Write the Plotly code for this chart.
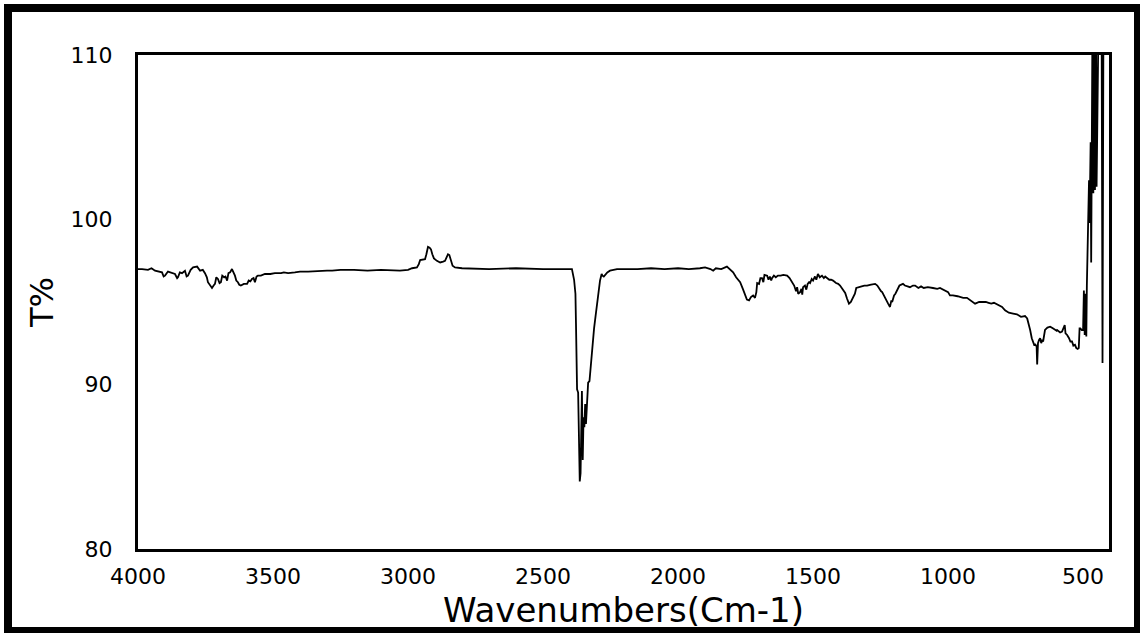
import plotly.graph_objects as go

# ---- data ----
wavenumbers = [
    4000, 3985, 3963, 3950, 3937, 3925, 3911, 3905, 3900, 3889, 3875, 3863, 3855, 3852, 3845, 3837,
    3826, 3820, 3815, 3805, 3796, 3781, 3770, 3760, 3752, 3745, 3741, 3733, 3726, 3720, 3715, 3710,
    3704, 3698, 3693, 3688, 3681, 3676, 3670, 3665, 3659, 3652, 3647, 3641, 3636, 3630, 3625, 3619,
    3608, 3596, 3590, 3584, 3578, 3572, 3567, 3561, 3556, 3545, 3530, 3510, 3493, 3470, 3460, 3444,
    3419, 3400, 3370, 3333, 3300, 3281, 3250, 3200, 3150, 3100, 3060, 3030, 3000, 2985, 2967, 2960,
    2955, 2945, 2937, 2932, 2926, 2920, 2915, 2910, 2904, 2893, 2881, 2870, 2863, 2856, 2852, 2847,
    2841, 2835, 2826, 2800, 2700, 2600, 2500, 2400, 2393, 2385, 2380, 2378, 2374, 2370, 2367, 2364,
    2361, 2358, 2356, 2353, 2350, 2347, 2344, 2341, 2337, 2333, 2328, 2322, 2318, 2311, 2305, 2300,
    2294, 2289, 2283, 2280, 2275, 2270, 2262, 2252, 2240, 2226, 2200, 2150, 2100, 2050, 2000, 1960,
    1919, 1900, 1880, 1870, 1860, 1840, 1819, 1810, 1796, 1785, 1770, 1760, 1752, 1745, 1737, 1730,
    1722, 1715, 1710, 1707, 1700, 1695, 1689, 1684, 1680, 1675, 1670, 1665, 1660, 1655, 1652, 1645,
    1638, 1630, 1620, 1610, 1596, 1587, 1578, 1570, 1563, 1559, 1555, 1548, 1543, 1540, 1537, 1530,
    1525, 1520, 1515, 1511, 1505, 1500, 1493, 1488, 1482, 1475, 1467, 1460, 1455, 1448, 1440, 1433,
    1426, 1415, 1407, 1400, 1390, 1381, 1374, 1367, 1360, 1352, 1345, 1340, 1333, 1320, 1310, 1300,
    1285, 1270, 1262, 1255, 1248, 1244, 1235, 1228, 1222, 1215, 1210, 1207, 1200, 1195, 1189, 1180,
    1167, 1160, 1150, 1141, 1130, 1122, 1110, 1100, 1090, 1075, 1056, 1040, 1030, 1015, 1000, 993,
    982, 965, 944, 930, 915, 900, 893, 885, 874, 860, 850, 840, 830, 815, 800, 789,
    775, 759, 745, 730, 715, 707, 700, 696, 690, 685, 680, 678, 672, 670, 668, 667,
    663, 659, 655, 651, 648, 644, 641, 632, 622, 612, 605, 598, 596, 590, 585, 578,
    572, 568, 565, 559, 552, 547, 541, 536, 530, 525, 520, 516, 513, 510, 505, 500,
    497, 494, 491, 488, 486, 484, 482, 480, 478, 476, 474, 472, 470, 468, 466, 464,
    462, 459, 456, 453, 450, 446, 440, 432, 428, 424, 415, 404,
]

transmittance = [
    97.0, 97.0, 96.95, 97.05, 96.9, 96.85, 96.8, 96.55, 96.6, 96.85, 96.75, 96.7, 96.45, 96.5, 96.8, 96.75,
    96.9, 96.55, 96.6, 96.95, 97.1, 97.15, 96.9, 96.95, 96.75, 96.5, 96.2, 96.0, 95.85, 96.0, 96.1, 96.5,
    96.4, 96.15, 96.2, 96.6, 96.5, 96.55, 96.3, 96.75, 96.8, 97.0, 96.85, 96.6, 96.3, 96.2, 96.05, 96.0,
    96.1, 96.1, 96.3, 96.25, 96.4, 96.45, 96.2, 96.55, 96.6, 96.6, 96.7, 96.7, 96.75, 96.75, 96.8, 96.75,
    96.8, 96.85, 96.85, 96.9, 96.9, 96.9, 96.95, 96.95, 96.9, 96.95, 96.9, 96.9, 96.95, 97.05, 97.1, 97.3,
    97.55, 97.6, 97.6, 97.9, 98.35, 98.3, 98.2, 97.9, 97.65, 97.5, 97.4, 97.45, 97.5, 97.75, 97.9, 97.85,
    97.45, 97.2, 97.1, 97.05, 97.0, 97.05, 97.0, 97.0, 97.0, 96.35, 95.5, 93.7, 89.7, 89.5, 86.5, 84.1,
    84.6, 88.8, 89.6, 85.4, 88.0, 87.4, 88.8, 87.6, 89.2, 90.1, 90.2, 91.5, 92.3, 93.4, 94.2, 94.9,
    95.6, 96.3, 96.7, 96.6, 96.55, 96.65, 96.8, 96.9, 96.95, 97.0, 97.0, 97.0, 97.05, 97.0, 97.05, 97.0,
    97.05, 97.1, 97.0, 96.9, 97.05, 97.0, 97.15, 97.0, 96.8, 96.5, 96.2, 95.8, 95.5, 95.15, 95.1, 95.3,
    95.4, 95.25, 95.6, 96.15, 96.1, 96.45, 96.45, 96.2, 96.65, 96.6, 96.6, 96.35, 96.55, 96.3, 96.45, 96.6,
    96.5, 96.6, 96.6, 96.65, 96.6, 96.45, 96.2, 96.0, 95.65, 95.9, 95.5, 95.6, 95.8, 95.45, 95.9, 96.0,
    95.75, 96.1, 96.2, 96.15, 96.4, 96.3, 96.55, 96.35, 96.7, 96.5, 96.6, 96.45, 96.55, 96.45, 96.35, 96.35,
    96.3, 96.15, 96.1, 96.0, 95.8, 95.55, 95.2, 94.9, 95.0, 95.25, 95.5, 95.85, 95.9, 95.95, 96.0, 96.0,
    96.05, 96.1, 96.0, 95.8, 95.65, 95.6, 95.3, 95.0, 94.9, 94.7, 95.1, 95.0, 95.4, 95.5, 95.7, 96.0,
    96.1, 96.0, 95.95, 95.9, 96.0, 96.0, 95.85, 95.95, 95.85, 95.9, 95.85, 95.8, 95.85, 95.7, 95.6, 95.4,
    95.4, 95.35, 95.25, 95.25, 95.05, 94.9, 94.95, 95.0, 95.0, 95.0, 94.95, 94.9, 94.95, 94.8, 94.7, 94.5,
    94.35, 94.3, 94.25, 94.1, 94.15, 94.0, 93.6, 93.3, 92.8, 92.5, 92.35, 92.45, 92.3, 91.2, 92.3, 92.5,
    92.7, 92.8, 92.5, 92.7, 92.6, 93.0, 93.3, 93.45, 93.5, 93.4, 93.3, 93.25, 93.3, 93.2, 93.15, 93.2,
    93.4, 93.6, 93.1, 93.0, 92.8, 92.6, 92.6, 92.35, 92.4, 92.2, 92.15, 92.2, 93.4, 93.4, 93.3, 93.3,
    95.7, 93.0, 95.5, 92.9, 96.0, 97.4, 98.3, 99.5, 102.4, 99.8, 102.6, 104.7, 97.4, 106.8, 112.0, 116.0,
    101.6, 116.0, 101.8, 116.0, 102.0, 116.0, 116.0, 116.0, 91.3, 116.0, 116.0, 116.0,
]

x_ticks = [4000, 3500, 3000, 2500, 2000, 1500, 1000, 500]
y_ticks = [80, 90, 100, 110]
x_range = [4000, 404]
y_range = [80, 110]

# ---- layout geometry ----
W, H = 1140, 633
ML, MR, MT, MB = 138, 31, 55, 84
pw, ph = W - ML - MR, H - MT - MB

font_family = "DejaVu Sans"

fig = go.Figure()
fig.add_trace(go.Scatter(
    x=wavenumbers, y=transmittance, mode="lines",
    line=dict(color="black", width=1.8), showlegend=False, hoverinfo="skip",
))

axis_common = dict(
    showline=True, mirror=True, linecolor="black", linewidth=3,
    showgrid=False, zeroline=False, ticks="",
    tickfont=dict(family=font_family, size=22, color="black"),
)

fig.update_layout(
    width=W, height=H,
    margin=dict(l=ML, r=MR, t=MT, b=MB, autoexpand=False),
    paper_bgcolor="white", plot_bgcolor="white",
    xaxis=dict(
        range=x_range, tickvals=x_ticks, ticktext=[str(v) for v in x_ticks],
        title=dict(text="Wavenumbers(Cm-1)", font=dict(family=font_family, size=34, color="black"), standoff=10),
        ticklabelstandoff=6,
        **axis_common,
    ),
    yaxis=dict(
        range=y_range, tickvals=y_ticks, ticktext=[str(v) for v in y_ticks],
        title=dict(text="T%", font=dict(family=font_family, size=32, color="black"), standoff=8),
        ticklabelstandoff=18,
        **axis_common,
    ),
    shapes=[dict(
        type="rect", xref="paper", yref="paper",
        x0=(8 - ML) / pw, x1=(1138 - ML) / pw,
        y0=(H - MB - 631) / ph, y1=(H - MB - 8) / ph,
        line=dict(color="black", width=8), fillcolor="rgba(0,0,0,0)", layer="above",
    )],
)

fig.write_html("out.html")
